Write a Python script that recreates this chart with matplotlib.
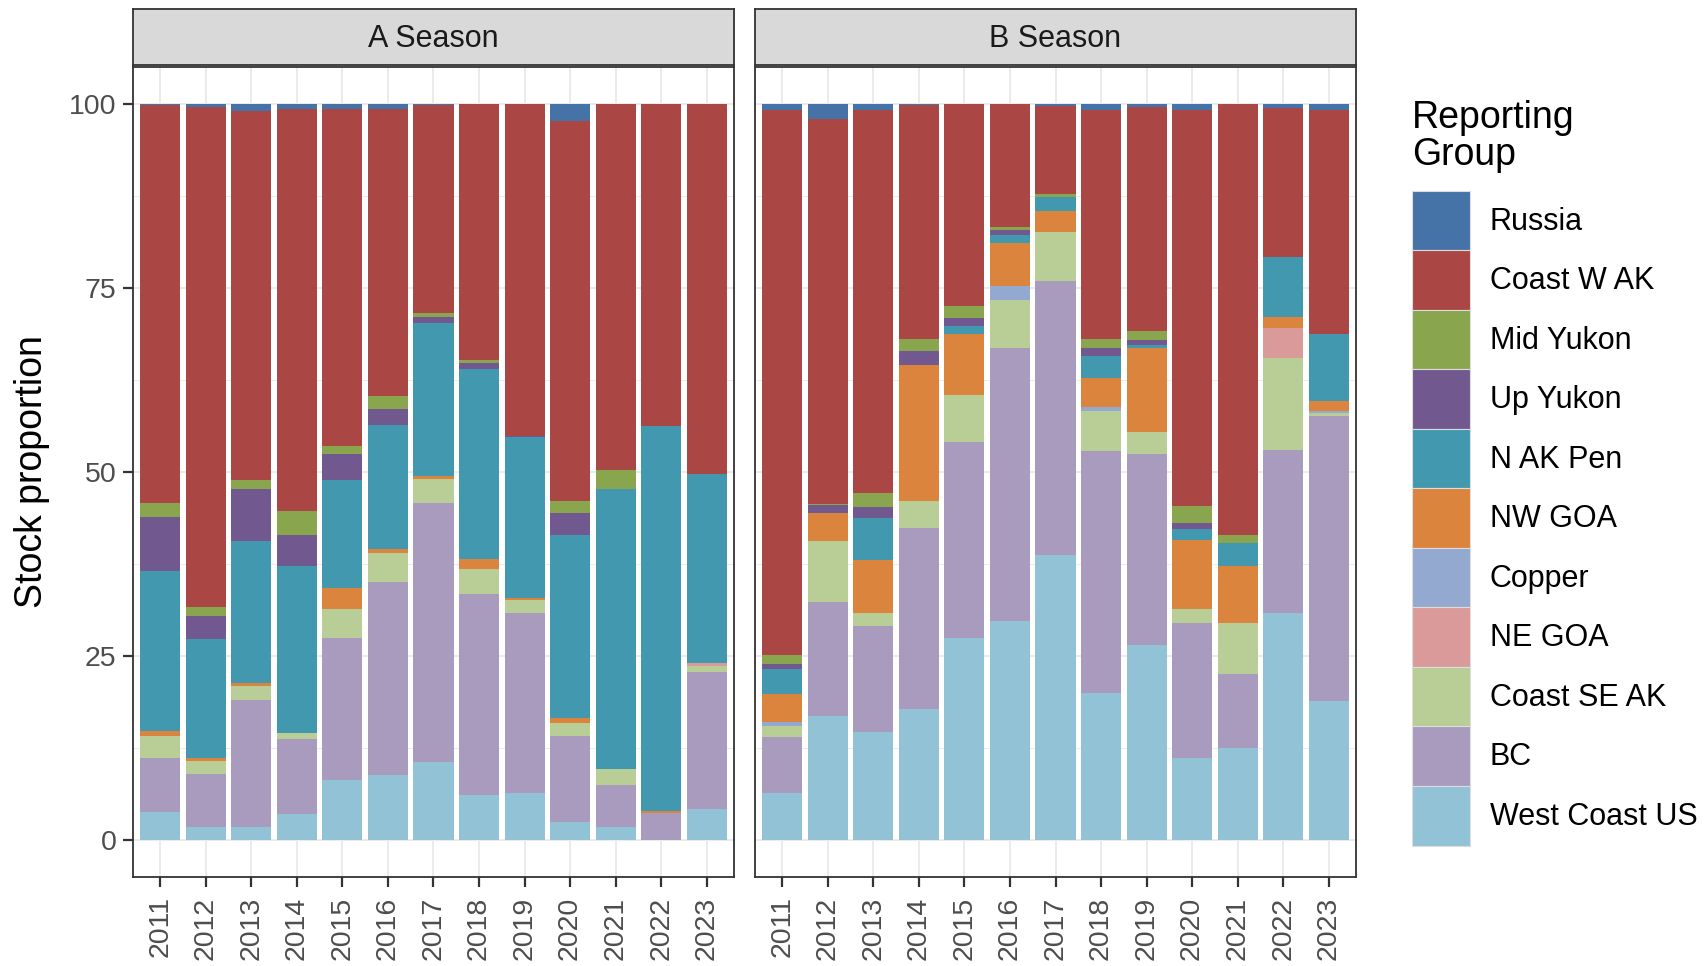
import matplotlib.pyplot as plt
import numpy as np
from matplotlib.patches import Patch

plt.rcParams['font.family'] = ['Liberation Sans', 'DejaVu Sans']

years = [str(y) for y in range(2011, 2024)]
seasons = ['A Season', 'B Season']

# stacking order, bottom -> top
groups = ['West Coast US', 'BC', 'Coast SE AK', 'NE GOA', 'Copper', 'NW GOA',
          'N AK Pen', 'Up Yukon', 'Mid Yukon', 'Coast W AK', 'Russia']
colors = {
    'Russia': '#4572A7', 'Coast W AK': '#AA4643', 'Mid Yukon': '#89A54E',
    'Up Yukon': '#71588F', 'N AK Pen': '#4198AF', 'NW GOA': '#DB843D',
    'Copper': '#93A9CF', 'NE GOA': '#DB9A9A', 'Coast SE AK': '#B9CD96',
    'BC': '#A99BBD', 'West Coast US': '#92C2D5',
}
legend_order = ['Russia', 'Coast W AK', 'Mid Yukon', 'Up Yukon', 'N AK Pen', 'NW GOA',
                'Copper', 'NE GOA', 'Coast SE AK', 'BC', 'West Coast US']

# A season proportions (%)
a_wcus   = [3.8, 1.8, 1.8, 3.6, 8.2, 8.9, 10.6, 6.1, 6.4, 2.5, 1.8, 0.0, 4.2]
a_bc     = [7.3, 7.2, 17.2, 10.1, 19.2, 26.1, 35.2, 27.3, 24.4, 11.6, 5.7, 3.7, 18.6]
a_seak   = [3.0, 1.8, 1.9, 0.8, 4.0, 4.0, 3.3, 3.4, 1.8, 1.8, 2.2, 0.0, 0.8]
a_negoa  = [0, 0, 0, 0, 0, 0, 0, 0, 0, 0, 0, 0, 0.4]
a_copper = [0, 0, 0, 0, 0, 0, 0, 0, 0, 0, 0, 0, 0]
a_nwgoa  = [0.7, 0.3, 0.5, 0.0, 2.9, 0.5, 0.4, 1.4, 0.3, 0.7, 0.0, 0.3, 0.0]
a_nakpen = [21.8, 16.2, 19.2, 22.7, 14.6, 16.9, 20.8, 25.8, 21.8, 24.8, 38.0, 52.3, 25.7]
a_upyuk  = [7.3, 3.1, 7.1, 4.2, 3.6, 2.2, 0.7, 0.8, 0.2, 3.0, 0.0, 0.0, 0.0]
a_midyuk = [1.9, 1.3, 1.2, 3.3, 1.0, 1.7, 0.6, 0.4, 0.0, 1.6, 2.6, 0.0, 0.0]
a_cwak   = [54.0, 67.8, 50.1, 54.6, 45.8, 39.0, 28.3, 34.8, 45.1, 51.6, 49.7, 43.7, 50.3]
a_russia = [0.2, 0.5, 1.0, 0.7, 0.7, 0.7, 0.1, 0.0, 0.0, 2.4, 0.0, 0.0, 0.0]

# B season proportions (%)
b_wcus   = [6.4, 16.9, 14.7, 17.8, 27.4, 29.8, 38.7, 20.0, 26.5, 11.2, 12.5, 30.8, 18.9]
b_bc     = [7.6, 15.4, 14.4, 24.6, 26.7, 37.1, 37.2, 32.9, 25.9, 18.3, 10.1, 22.2, 38.7]
b_seak   = [1.5, 8.3, 1.8, 3.7, 6.4, 6.5, 6.7, 5.4, 3.1, 1.9, 6.9, 12.5, 0.4]
b_negoa  = [0, 0, 0, 0, 0, 0, 0, 0, 0, 0, 0, 4.0, 0]
b_copper = [0.6, 0, 0, 0, 0, 1.8, 0, 0.5, 0, 0, 0, 0, 0.3]
b_nwgoa  = [3.8, 3.9, 7.1, 18.4, 8.2, 5.9, 2.8, 4.0, 11.4, 9.3, 7.8, 1.5, 1.4]
b_nakpen = [3.4, 0.0, 5.8, 0.0, 1.1, 1.1, 1.9, 2.9, 0.3, 1.6, 3.0, 8.2, 9.0]
b_upyuk  = [0.6, 1.0, 1.5, 1.9, 1.1, 0.6, 0.0, 1.2, 0.7, 0.8, 0.0, 0.0, 0.0]
b_midyuk = [1.3, 0.2, 1.9, 1.6, 1.6, 0.5, 0.4, 1.2, 1.3, 2.3, 1.1, 0.0, 0.0]
b_cwak   = [73.9, 52.3, 51.9, 31.8, 27.5, 16.7, 12.0, 31.1, 30.4, 53.8, 58.6, 20.2, 30.5]
b_russia = [0.9, 2.0, 0.9, 0.2, 0.0, 0.0, 0.3, 0.8, 0.4, 0.8, 0.0, 0.6, 0.8]

data = {
    'A Season': [a_wcus, a_bc, a_seak, a_negoa, a_copper, a_nwgoa,
                 a_nakpen, a_upyuk, a_midyuk, a_cwak, a_russia],
    'B Season': [b_wcus, b_bc, b_seak, b_negoa, b_copper, b_nwgoa,
                 b_nakpen, b_upyuk, b_midyuk, b_cwak, b_russia],
}

W, H = 1706, 966
fig = plt.figure(figsize=(W / 100, H / 100), dpi=100)

panel_left = [133, 755]
panel_w = 601
p_top, p_bot = 67, 877
strip_top, strip_bot = 9, 65
txt_col = '#4D4D4D'
x = np.arange(len(years))

for i, season in enumerate(seasons):
    ax = fig.add_axes([panel_left[i] / W, 1 - p_bot / H, panel_w / W, (p_bot - p_top) / H])
    bottom = np.zeros(len(years))
    for g, vals in zip(groups, data[season]):
        v = np.array(vals, dtype=float)
        ax.bar(x, v, width=0.88, bottom=bottom, color=colors[g], linewidth=0, zorder=3)
        bottom += v
    ax.set_xlim(-0.6, len(years) - 0.4)
    ax.set_ylim(-5, 105)
    ax.set_yticks([0, 25, 50, 75, 100])
    ax.set_yticks([12.5, 37.5, 62.5, 87.5], minor=True)
    ax.set_xticks(x)
    ax.set_xticklabels(years, rotation=90, fontsize=20.5, color=txt_col)
    ax.grid(True, which='major', color='#EBEBEB', linewidth=1.4, zorder=0)
    ax.grid(True, which='minor', axis='y', color='#EBEBEB', linewidth=0.7, zorder=0)
    ax.set_axisbelow(True)
    ax.tick_params(which='major', length=7, width=1.6, color='#333333', labelsize=20.5,
                   labelcolor=txt_col)
    ax.tick_params(axis='y', pad=5)
    ax.tick_params(axis='x', pad=7)
    ax.tick_params(which='minor', length=0)
    for s in ax.spines.values():
        s.set_color('#333333')
        s.set_linewidth(1.3)
    if i == 0:
        ax.set_ylabel('Stock proportion', fontsize=27, color='black')
        ax.yaxis.set_label_coords((50 - 133) / panel_w, 0.5)
    else:
        ax.set_yticklabels([])
        ax.tick_params(axis='y', length=0)

    sax = fig.add_axes([panel_left[i] / W, 1 - strip_bot / H, panel_w / W, (strip_bot - strip_top) / H])
    sax.set_facecolor('#D9D9D9')
    sax.set_xticks([])
    sax.set_yticks([])
    for s in sax.spines.values():
        s.set_color('#333333')
        s.set_linewidth(1.3)
    sax.text(0.5, 0.47, season, ha='center', va='center', fontsize=22, color='#1A1A1A',
             transform=sax.transAxes)

handles = [Patch(facecolor=colors[g], edgecolor='#DDDDDD', linewidth=0.8) for g in legend_order]
leg = fig.legend(handles, legend_order, loc='upper left',
                 bbox_to_anchor=(1412 / W, 1 - 100 / H), frameon=False, fontsize=22,
                 title='Reporting\nGroup', title_fontsize=27,
                 handlelength=1.9, handleheight=2.62, labelspacing=0.0,
                 handletextpad=0.65, borderpad=0, borderaxespad=0)
leg._legend_box.align = 'left'
leg._legend_box.sep = 12.5
leg.get_title().set_linespacing(1.05)

fig.savefig('out.png', dpi=100)
